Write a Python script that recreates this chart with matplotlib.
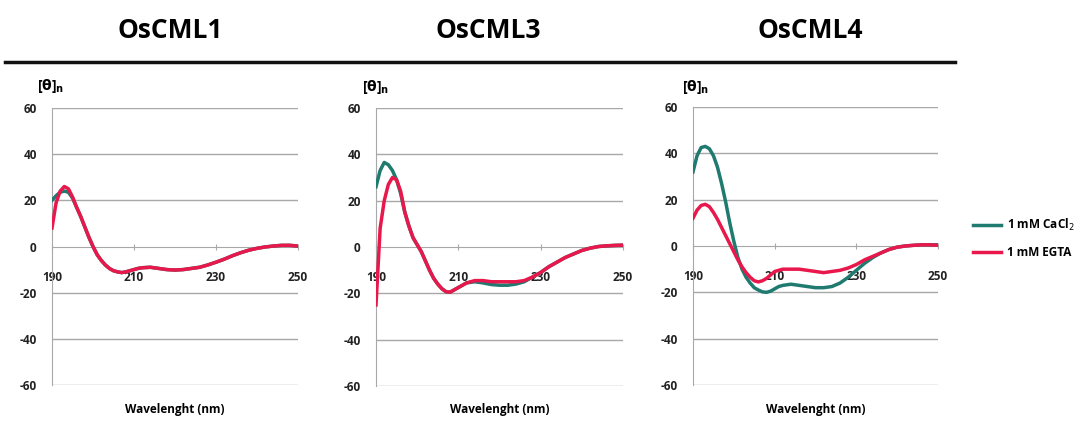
import matplotlib
matplotlib.use("Agg")
from matplotlib import pyplot as plt
from matplotlib.lines import Line2D

plt.rcParams['font.family'] = ['Open Sans', 'DejaVu Sans']
plt.rcParams['axes.unicode_minus'] = False

# wavelengths (nm) shared by all curves
wavelength = list(range(190, 213)) + list(range(214, 251, 2))

titles = ['OsCML1', 'OsCML3', 'OsCML4']
series_labels = ['1 mM CaCl$_2$', '1 mM EGTA']

# OsCML1
cml1_cacl2 = [20, 22, 23.5, 24, 23.5, 21, 17, 13, 8.5, 4, 0, -3.5, -6, -8, -9.5, -10.5, -11, -11.3, -11, -10.5, -10, -9.5, -9.2,
              -9, -9.5, -10, -10.2, -10, -9.5, -9, -8, -6.8, -5.5, -4, -2.7, -1.6, -0.8, -0.2, 0.2, 0.5, 0.5, 0.2]
cml1_egta = [8, 19, 24, 26, 25, 21.5, 17, 13, 8.5, 4, 0, -3.5, -6, -8, -9.5, -10.5, -11, -11.3, -11, -10.5, -10, -9.5, -9.2,
             -9, -9.5, -10, -10.2, -10, -9.5, -9, -8, -6.8, -5.5, -4, -2.7, -1.6, -0.8, -0.2, 0.2, 0.5, 0.5, 0.2]

# OsCML3
cml3_cacl2 = [26, 33, 36.5, 35.5, 33, 29, 23, 15, 9, 4, 1, -2, -6, -10, -13.5, -16, -18, -19.3, -19.5, -18.5, -17.5, -16.5, -15.5,
              -15, -15.5, -16.2, -16.5, -16.5, -16, -15, -13, -11, -8.5, -6.5, -4.5, -3, -1.5, -0.5, 0.2, 0.5, 0.7, 0.8]
cml3_egta = [-25, 8, 20, 27, 30, 29, 24, 15, 9, 4, 1, -2, -6, -10, -13.5, -16, -18, -19.3, -19.5, -18.5, -17.5, -16.5, -15.5,
             -14.5, -14.5, -15, -15, -15, -15, -14.5, -13, -11, -8.5, -6.5, -4.5, -3, -1.5, -0.5, 0.2, 0.5, 0.7, 0.8]

# OsCML4
cml4_cacl2 = [32, 39, 42.5, 43, 42, 39, 34, 27, 19, 10, 2, -5, -10, -13.5, -16, -18, -19, -19.8, -20, -19.5, -18.5, -17.5, -17,
              -16.5, -17, -17.5, -18, -18, -17.5, -16, -13.5, -10.5, -7.5, -5, -3, -1.5, -0.5, 0, 0.3, 0.5, 0.5, 0.5]
cml4_egta = [12, 15.5, 17.5, 18, 17, 14.5, 11.5, 8, 4.5, 1, -2.5, -6, -9, -11.5, -13.5, -15, -15.5, -15, -14, -12.5, -11, -10.5, -10,
             -10, -10, -10.5, -11, -11.5, -11, -10.5, -9.5, -8, -6, -4.5, -3, -1.5, -0.5, 0, 0.3, 0.5, 0.5, 0.3]

panels = [(cml1_cacl2, cml1_egta), (cml3_cacl2, cml3_egta), (cml4_cacl2, cml4_egta)]

teal = '#1f7a70'
red = '#e8174c'
grid_col = '#a8a8a8'

fig = plt.figure(figsize=(10.81, 4.21), dpi=100)
W, H = 1081.0, 421.0

# axes boxes in pixels: left, right, top(60), bottom(-60)
boxes = [(52, 298, 108, 385), (376, 623, 108, 386), (693, 938, 107, 385)]
title_x = [170, 488, 810]
ylab_pos = [(37, 86), (362, 87), (682, 87)]

handles = []
for i, (box, data) in enumerate(zip(boxes, panels)):
    l, r, t, b = box
    ax = fig.add_axes([l / W, 1 - b / H, (r - l) / W, (b - t) / H])
    ax.set_xlim(190, 250)
    ax.set_ylim(-60, 60)
    for y in [-60, -40, -20, 20, 40, 60]:
        ax.axhline(y, color=grid_col, lw=1, zorder=1)
    for s in ['top', 'right']:
        ax.spines[s].set_visible(False)
    ax.spines['left'].set_color(grid_col)
    ax.spines['bottom'].set_color(grid_col)
    ax.spines['bottom'].set_position(('data', 0))
    ax.set_xticks([190, 210, 230, 250])
    ax.set_yticks([-60, -40, -20, 0, 20, 40, 60])
    ax.tick_params(axis='x', direction='inout', length=5, color=grid_col, pad=15, labelsize=8.5)
    ax.tick_params(axis='y', length=0, pad=11, labelsize=8.5)
    for lab in ax.get_xticklabels() + ax.get_yticklabels():
        lab.set_fontweight('bold')
        lab.set_color('#222222')

    h1, = ax.plot(wavelength, data[0], color=teal, lw=2.5, zorder=3, label=series_labels[0])
    h2, = ax.plot(wavelength, data[1], color=red, lw=2.5, zorder=4, label=series_labels[1])
    handles = [h1, h2]

    fig.text(title_x[i] / W, 1 - 30 / H, titles[i], ha='center', va='center',
             fontsize=19, fontweight='bold')
    fig.text(ylab_pos[i][0] / W, 1 - ylab_pos[i][1] / H, r'[$\mathbf{\theta}$]$_\mathbf{n}$',
             ha='left', va='center', fontsize=10, fontweight='bold')
    fig.text((l + r) / 2 / W, 1 - 410 / H, 'Wavelenght (nm)', ha='center', va='center',
             fontsize=8.5, fontweight='bold')

fig.add_artist(Line2D([5 / W, 955 / W], [1 - 62 / H, 1 - 62 / H], color='#111111', lw=2.5))

fig.legend(handles, series_labels, loc='center left', bbox_to_anchor=(962 / W, 1 - 238 / H),
           frameon=False, handlelength=2.4, labelspacing=1.1, handletextpad=0.5,
           prop={'weight': 'bold', 'size': 8.5})

fig.savefig('out.png', dpi=100)
